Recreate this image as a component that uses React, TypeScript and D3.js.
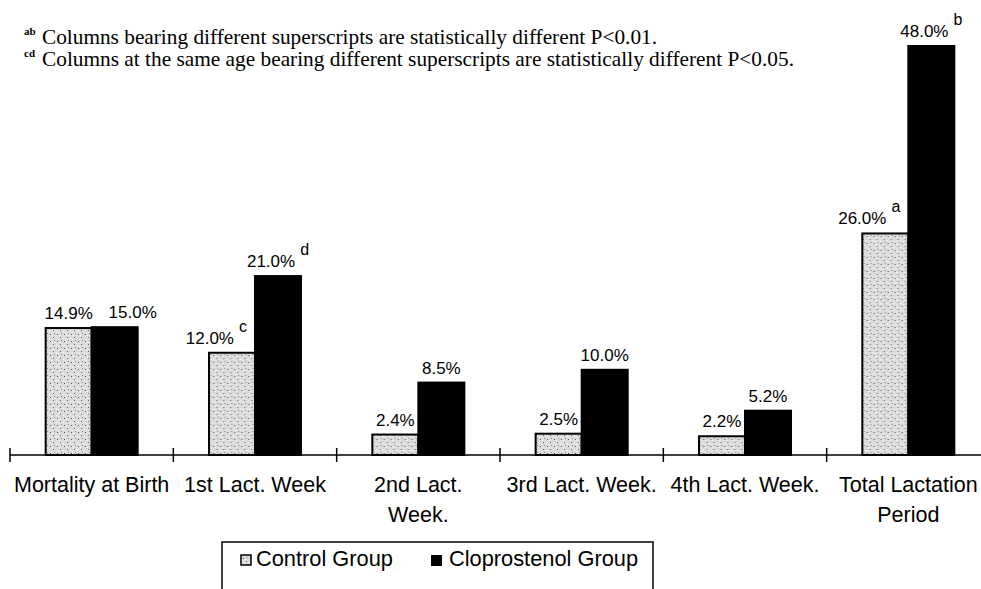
import React from 'react';
import * as d3 from 'd3';

// chart data
const categories = ['Mortality at Birth', '1st Lact. Week', '2nd Lact. Week.', '3rd Lact. Week.', '4th Lact. Week.', 'Total Lactation Period'];
const categoryLines = [['Mortality at Birth'], ['1st Lact. Week'], ['2nd Lact.', 'Week.'], ['3rd Lact. Week.'], ['4th Lact. Week.'], ['Total Lactation', 'Period']];
const seriesNames = ['Control Group', 'Cloprostenol Group'];
const controlValues = [14.9, 12.0, 2.4, 2.5, 2.2, 26.0];
const cloprostenolValues = [15.0, 21.0, 8.5, 10.0, 5.2, 48.0];
const controlSup = ['', 'c', '', '', '', 'a'];
const cloprostenolSup = ['', 'd', '', '', '', 'b'];
const noteSups = ['ab', 'cd'];
const noteTexts = [
  'Columns bearing different superscripts are statistically different P<0.01.',
  'Columns at the same age bearing different superscripts are statistically different P<0.05.',
];

const W = 981;
const H = 589;
const baseY = 455;
const sans = '"Liberation Sans", Arial, sans-serif';
const serif = '"Liberation Serif", "Times New Roman", serif';
const noteWidths = [615, 752];

export default function App() {
  const x0 = d3.scaleBand<string>().domain(categories).range([10, 990]).padding(0);
  const x1 = d3.scaleBand<string>().domain(seriesNames).range([0, x0.bandwidth()]).paddingInner(0).paddingOuter(0.775);
  const y = d3.scaleLinear().domain([0, 48]).range([baseY, 46]);
  const bw = x1.bandwidth();

  const rows = categories.map((c, i) => ({
    cat: c,
    lines: categoryLines[i],
    bars: [
      { s: seriesNames[0], v: controlValues[i], sup: controlSup[i] },
      { s: seriesNames[1], v: cloprostenolValues[i], sup: cloprostenolSup[i] },
    ],
  }));

  return (
    <svg width={W} height={H} style={{ display: 'block', position: 'absolute', left: 0, top: 0, background: '#fff' }}>
      <defs>
        <pattern id="stipple" width="7" height="7" patternUnits="userSpaceOnUse">
          <rect width="7" height="7" fill="#dcdcdc" />
          <rect x="1" y="1" width="1" height="1" fill="#6a6a6a" />
          <rect x="4" y="2" width="1" height="1" fill="#fafafa" />
          <rect x="2" y="4" width="1" height="1" fill="#8a8a8a" />
          <rect x="5" y="5" width="1" height="1" fill="#555" />
          <rect x="6" y="3" width="1" height="1" fill="#f4f4f4" />
          <rect x="0" y="6" width="1" height="1" fill="#fff" />
        </pattern>
      </defs>

      {/* footnotes */}
      {noteTexts.map((t, i) => (
        <g key={noteSups[i]} transform={`translate(0, ${44 + i * 22})`}>
          <text x={24} y={-9} fontFamily={serif} fontSize={11} fontWeight="bold">{noteSups[i]}</text>
          <text x={42} y={0} fontFamily={serif} fontSize={21} textLength={noteWidths[i]} lengthAdjust="spacingAndGlyphs">{t}</text>
        </g>
      ))}

      {/* bars */}
      {rows.map(r => (
        <g key={r.cat} transform={`translate(${x0(r.cat)},0)`}>
          {r.bars.map((b, j) => (
            <rect
              key={b.s}
              x={x1(b.s)}
              y={y(b.v)}
              width={bw}
              height={baseY - y(b.v)}
              fill={j === 0 ? 'url(#stipple)' : '#000'}
              stroke="#000"
              strokeWidth={2}
            />
          ))}
          {r.bars.map((b, j) => {
            const cx = (x1(b.s) as number) + bw / 2;
            const other = r.bars[1 - j];
            let tx = cx;
            let anchor: 'middle' | 'end' = 'middle';
            if (j === 0 && b.sup) {
              tx = (x1(b.s) as number) + bw - 8;
              anchor = 'end';
            }
            if (j === 1 && Math.abs(y(b.v) - y(other.v)) < 20) tx = cx + 18;
            return (
              <text key={b.s} x={tx} y={y(b.v) - 9} textAnchor={anchor} fontFamily={sans} fontSize={17}>
                {b.v.toFixed(1) + '%'}
                {b.sup && <tspan dx={5} dy={-12} fontSize={16}>{b.sup}</tspan>}
              </text>
            );
          })}
          {r.lines.map((ln, k) => (
            <text key={k} x={x0.bandwidth() / 2} y={492 + k * 30} textAnchor="middle" fontFamily={sans} fontSize={21.5}>
              {ln}
            </text>
          ))}
        </g>
      ))}

      {/* axis */}
      <line x1={10} x2={W} y1={baseY} y2={baseY} stroke="#000" strokeWidth={1.5} />
      {categories.map(c => (
        <line key={c} x1={x0(c)} x2={x0(c)} y1={baseY - 7} y2={baseY + 7} stroke="#000" strokeWidth={1.5} />
      ))}

      {/* legend */}
      <rect x={222} y={542} width={431} height={60} fill="#fff" stroke="#000" strokeWidth={1.5} />
      <rect x={241} y={555} width={10} height={10} fill="url(#stipple)" stroke="#000" strokeWidth={1.5} />
      <text x={256} y={566} fontFamily={sans} fontSize={21.8}>{seriesNames[0]}</text>
      <rect x={431} y={555} width={11} height={11} fill="#000" />
      <text x={449} y={566} fontFamily={sans} fontSize={21.8}>{seriesNames[1]}</text>
    </svg>
  );
}
